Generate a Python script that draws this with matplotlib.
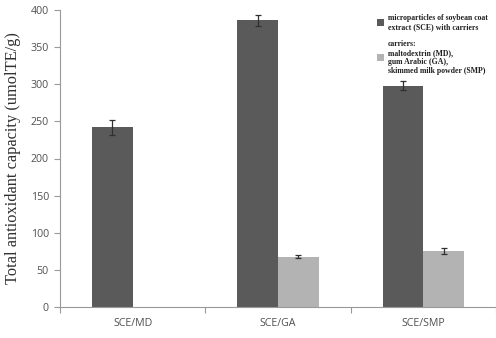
import numpy as np
import matplotlib
matplotlib.use('Agg')
import matplotlib.pyplot as plt

# 数据
categories = ['SCE/MD', 'SCE/GA', 'SCE/SMP']
sce_values = [242, 386, 298]
sce_errors = [10, 7, 6]
carrier_values = [0, 68, 75]
carrier_errors = [0, 2, 4]

fig = plt.figure(figsize=(4.96, 3.38), dpi=100)
ax = fig.add_axes([60 / 496, 31 / 338, 1 - 60 / 496, 297 / 338])

x = np.arange(len(categories))
w = 0.28
err_kw = dict(ecolor='#303030', elinewidth=0.9, capsize=2.5, capthick=0.9)
ax.bar(x - w / 2, sce_values, w, yerr=sce_errors, color='#5a5a5a', error_kw=err_kw,
       label='microparticles of soybean coat\nextract (SCE) with carriers')
ax.bar(x[1:] + w / 2, carrier_values[1:], w, yerr=carrier_errors[1:], color='#b3b3b3', error_kw=err_kw,
       label='carriers:\nmaltodextrin (MD),\ngum Arabic (GA),\nskimmed milk powder (SMP)')

ax.set_xlim(-0.5, 2.5)
ax.set_ylim(0, 400)
ax.set_yticks(range(0, 401, 50))
ax.set_xticks([-0.5, 0.5, 1.5, 2.5])
ax.set_xticklabels([])
ax.set_xticks(x, minor=True)
ax.set_xticklabels(categories, minor=True)
ax.tick_params(axis='x', which='minor', length=0, pad=8)
ax.tick_params(axis='x', which='major', length=4, color='#999999')
ax.tick_params(axis='y', length=4, color='#999999', pad=4)
for lab in ax.get_xticklabels(minor=True) + ax.get_yticklabels():
    lab.set_fontsize(7.7)
    lab.set_color('#505050')
    lab.set_family('Open Sans')

for s in ['top', 'right']:
    ax.spines[s].set_visible(False)
for s in ['left', 'bottom']:
    ax.spines[s].set_color('#999999')
    ax.spines[s].set_linewidth(0.8)

ax.set_ylabel('Total antioxidant capacity (umolTE/g)', family='Liberation Serif', fontsize=11.8,
              color='#303030', labelpad=7)

leg = ax.legend(loc='upper left', bbox_to_anchor=(0.71, 1.01), frameon=False,
                prop={'family': 'Liberation Serif', 'weight': 'bold', 'size': 5.6},
                handlelength=1.0, handleheight=1.0, handletextpad=0.5, labelspacing=1.1)
for t in leg.get_texts():
    t.set_color('#202020')

fig.savefig('out.png', dpi=100)
